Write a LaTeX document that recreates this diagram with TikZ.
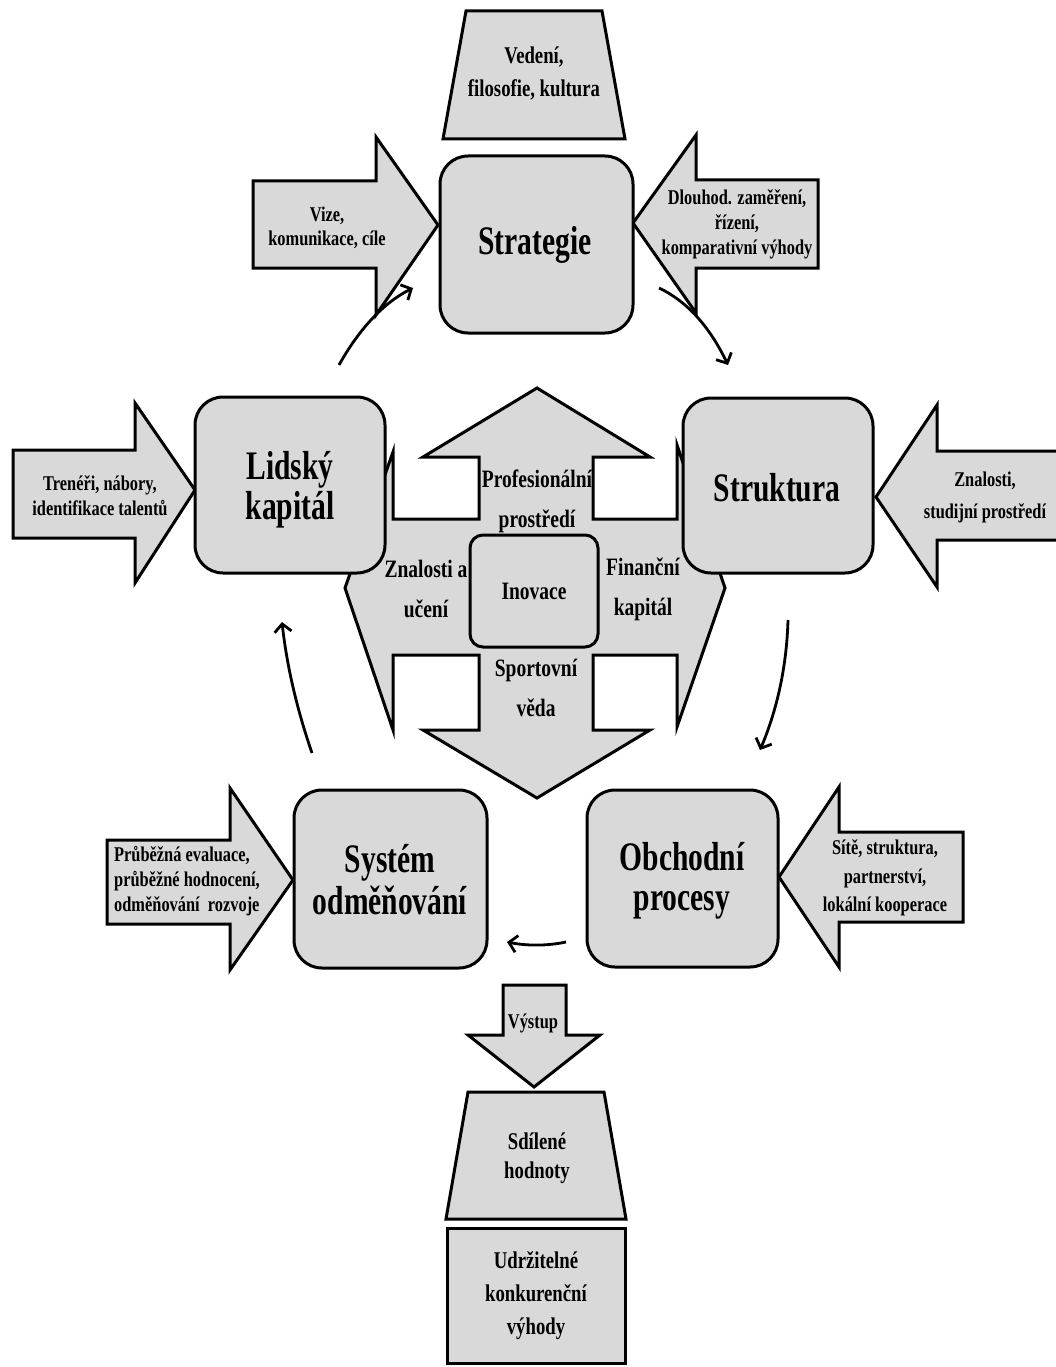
\documentclass[tikz,border=0pt]{standalone}
\usepackage{fontspec}
\setmainfont{Liberation Serif}[FakeStretch=0.78]
\newfontfamily\bigfont{Liberation Serif}[FakeStretch=0.73]
\usetikzlibrary{arrows.meta}
\definecolor{boxgray}{HTML}{D9D9D9}
\begin{document}
\begin{tikzpicture}[x=1pt,y=-1pt,
  shp/.style={draw=black, line width=3pt, fill=boxgray, line join=miter},
  rbox/.style={shp, rounded corners=28pt, inner sep=0pt},
  bigtxt/.style={inner sep=0pt, align=center, font=\bigfont\bfseries\fontsize{40.5}{40}\selectfont},
  smalltxt/.style={inner sep=0pt, align=center, font=\bfseries\fontsize{21}{25}\selectfont},
  midtxt/.style={inner sep=0pt, align=center, font=\bfseries\fontsize{25}{40}\selectfont},
  bottxt/.style={inner sep=0pt, align=center, font=\bfseries\fontsize{24}{33}\selectfont},
  flow/.style={line width=2.8pt, -{Straight Barb[length=8pt,width=17pt]}}
]
\useasboundingbox (0,0) rectangle (1055,1367);

% central cross arrow
\draw[shp] (537,388) -- (650,457) -- (593,457) -- (593,519) -- (677,519) -- (677,445)
  -- (725,588) -- (677,727) -- (677,655) -- (593,655) -- (593,730) -- (650,730)
  -- (537,798) -- (423,730) -- (479,730) -- (479,655) -- (393,655) -- (393,730)
  -- (345,588) -- (393,452) -- (393,519) -- (479,519) -- (479,457) -- (423,457) -- cycle;
\node[shp, rounded corners=13pt, minimum width=128pt, minimum height=112pt, inner sep=0pt,
  font=\bfseries\fontsize{25}{30}\selectfont] (inov) at (534,591) {Inovace};
\node[midtxt] (prof) at (537,501) {Profesionální\\prostředí};
\node[midtxt] (znal) at (426,589) {Znalosti a\\učení};
\node[midtxt] (fin) at (643,589) {Finanční\\kapitál};
\node[midtxt] (sport) at (536,688) {Sportovní\\věda};

% side arrows
\draw[shp] (253,181) -- (376,181) -- (376,137) -- (438,225) -- (376,315) -- (376,268) -- (253,268) -- cycle;
\draw[shp] (818,180) -- (696,180) -- (696,135) -- (633,223) -- (696,313) -- (696,268) -- (818,268) -- cycle;
\draw[shp] (13,450) -- (135,450) -- (135,403) -- (195,490) -- (135,583) -- (135,538) -- (13,538) -- cycle;
\draw[shp] (1064,451) -- (937,451) -- (937,405) -- (876,497) -- (937,587) -- (937,540) -- (1064,540) -- cycle;
\draw[shp] (107,840) -- (230,840) -- (230,788) -- (293,880) -- (230,970) -- (230,924) -- (107,924) -- cycle;
\draw[shp] (963,832) -- (839,832) -- (839,787) -- (779,877) -- (839,967) -- (839,922) -- (963,922) -- cycle;

\node[smalltxt, font=\bfseries\fontsize{21}{23.5}\selectfont] (vize) at (327,228) {Vize,\\komunikace, cíle};
\node[smalltxt] (dlouh) at (737,224) {Dlouhod. zaměření,\\řízení,\\komparativní výhody};
\node[smalltxt] (tren) at (100,496) {Trenéři, nábory,\\identifikace talentů};
\node[smalltxt, font=\bfseries\fontsize{21}{32}\selectfont] (znst) at (985,497) {Znalosti,\\studijní prostředí};
\node[smalltxt, align=left, anchor=west] (prub) at (114,881) {Průběžná evaluace,\\průběžné hodnocení,\\odměňování\ \ rozvoje};
\node[smalltxt, font=\bfseries\fontsize{21}{28.5}\selectfont] (site) at (885,878) {Sítě, struktura,\\partnerství,\\lokální kooperace};

% main boxes
\node[rbox, minimum width=193pt, minimum height=177pt] (strat) at (536.5,244.5) {};
\node[rbox, minimum width=190pt, minimum height=176pt] (lidsky) at (290,485) {};
\node[rbox, minimum width=190pt, minimum height=175pt] (strukt) at (778,485.5) {};
\node[rbox, minimum width=193pt, minimum height=178pt] (system) at (390.5,879) {};
\node[rbox, minimum width=191pt, minimum height=177pt] (obch) at (682.5,878.5) {};
\node[bigtxt] (stratT) at (535,245) {Strategie};
\node[bigtxt] (lidskyT) at (290,490) {Lidský\\kapitál};
\node[bigtxt] (struktT) at (777,488) {Struktura};
\node[bigtxt, font=\bigfont\bfseries\fontsize{40.5}{42}\selectfont] (systemT) at (390,880) {Systém\\odměňování};
\node[bigtxt] (obchT) at (682,881) {Obchodní\\procesy};

% top trapezoid
\draw[shp] (466,11) -- (602,11) -- (625,139) -- (443,139) -- cycle;
\node[bottxt] (veden) at (534,74) {Vedení,\\filosofie, kultura};

% bottom part
\draw[shp] (503,985) -- (566,985) -- (566,1035) -- (600,1035) -- (534,1087) -- (468,1035) -- (503,1035) -- cycle;
\node[smalltxt] (vyst) at (533,1023) {Výstup};
\draw[shp] (468,1092) -- (604,1092) -- (626,1219) -- (446,1219) -- cycle;
\node[bottxt, font=\bfseries\fontsize{24}{29}\selectfont] (sdil) at (537,1158) {Sdílené\\hodnoty};
\node[shp, minimum width=178pt, minimum height=135pt, inner sep=0pt, align=center,
  font=\bfseries\fontsize{24}{33}\selectfont] (udrz) at (536,1295.5) {Udržitelné\\konkurenční\\výhody};

% cycle arrows
\coordinate (a1s) at (339,365); \coordinate (a1e) at (413,288);
\coordinate (a2s) at (659,288); \coordinate (a2e) at (728,365);
\coordinate (a3s) at (788,620); \coordinate (a3e) at (760,750);
\coordinate (a4s) at (566,942); \coordinate (a4e) at (507,942);
\coordinate (a5s) at (312,753); \coordinate (a5e) at (282,622);
\draw[flow] (a1s) .. controls (359.7,328) and (384.3,302.3) .. (a1e);
\draw[flow] (a2s) .. controls (686.7,301) and (709.7,326.7) .. (a2e);
\draw[flow] (a3s) .. controls (786.7,666) and (777.3,709.3) .. (a3e);
\draw[flow] (a4s) .. controls (547,946) and (527.3,946) .. (a4e);
\draw[flow] (a5s) .. controls (296.7,708.7) and (286.7,665) .. (a5e);
\end{tikzpicture}
\end{document}
